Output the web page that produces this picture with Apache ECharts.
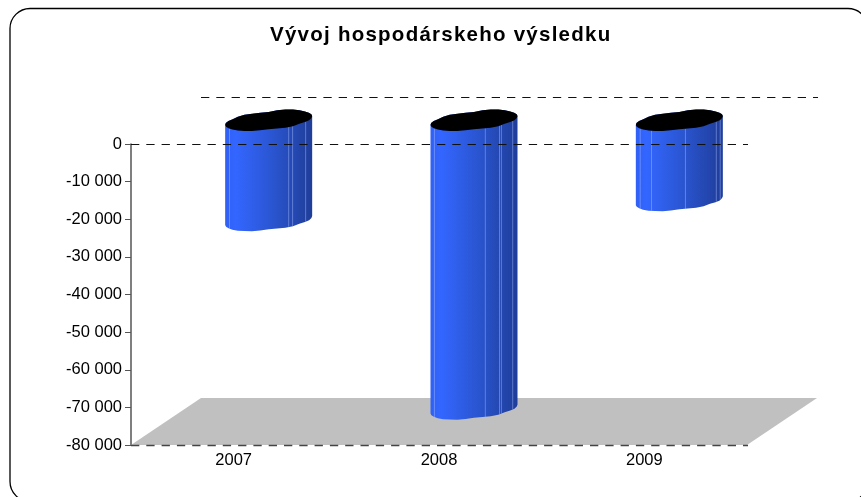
<!DOCTYPE html>
<html><head><meta charset="utf-8">
<style>html,body{margin:0;padding:0;background:#fff}#c{width:861px;height:497px}</style>
<script src="https://cdn.jsdelivr.net/npm/echarts@6/dist/echarts.min.js"></script>
</head><body><div id="c"></div>
<script>
const titleText = 'Vývoj hospodárskeho výsledku';
const categories = ['2007', '2008', '2009'];
const values = [-26600, -76700, -21300];
const yTicks = [0, -80000];

const DEPTH = [70, -47];
const R = [43.5, 9.3];
const SKEW = 4.5;
const seams = [
  [-0.9, 0.46, 0.55, 0.85],
  [-0.91, 0.26, 0.586, 0.63, 0.89],
  [-0.9, -0.64, 0.14, 0.85, 0.94]
];
const bump = [0, .3, .9, .2, -.3, .5, .3, -.3, -.6, -.2, .3, .3, .5, .3, -.2, -.2,
              0, .8, .3, -.5, .4, .6, -.2, -.6, -.8, .3, .8, .9, .6, .3, -.2, 0];

// ECharts text has no letter spacing option; the title is tracked out at draw time.
const nativeFillText = CanvasRenderingContext2D.prototype.fillText;
CanvasRenderingContext2D.prototype.fillText = function (t, x, y, w) {
  const prev = this.letterSpacing;
  if (t === titleText) this.letterSpacing = '1.25px';
  const r = w === undefined ? nativeFillText.call(this, t, x, y) : nativeFillText.call(this, t, x, y, w);
  this.letterSpacing = prev;
  return r;
};

function fmt(v) { return String(v).replace(/(\d)(?=(\d{3})+$)/g, '$1 '); }

function rimPoints(cx, cy) {
  const pts = [], n = bump.length;
  for (let i = 0; i < n; i++) {
    const t = i / n * Math.PI * 2;
    const b = bump[i];
    pts.push([cx + (R[0] + b * 0.3) * Math.cos(t), cy - SKEW * Math.cos(t) + (R[1] + b) * Math.sin(t)]);
  }
  return pts;
}

function renderFloor(params, api) {
  const bw = api.size([1, 0])[0];
  const x0 = api.coord([0, 0])[0] - bw / 2;
  const x1 = x0 + bw * categories.length;
  const yb = api.coord([0, yTicks[1]])[1];
  return { type: 'polygon', z2: 1, silent: true,
    shape: { points: [[x0, yb], [x0 + DEPTH[0], yb + DEPTH[1]], [x1 + DEPTH[0], yb + DEPTH[1]], [x1, yb]] },
    style: { fill: '#c0c0c0' } };
}

function renderBar(params, api) {
  const i = params.dataIndex;
  const top = api.coord([i, 0]);
  const bot = api.coord([i, api.value(1)]);
  const cx = top[0] + DEPTH[0] / 2, ty = top[1] + DEPTH[1] / 2, by = bot[1] + DEPTH[1] / 2;
  const rimT = rimPoints(cx, ty), rimB = rimPoints(cx, by);
  const n = rimT.length;
  const front = [];
  for (let k = 0; k <= n / 2; k++) front.push(rimB[k]);
  const upper = [];
  for (let k = n / 2; k <= n; k++) upper.push(rimT[k % n]);
  const body = front.concat(upper);
  const children = [{
    type: 'polygon', shape: { points: body },
    style: { fill: new echarts.graphic.LinearGradient(0, 0, 1, 0, [
      { offset: 0, color: '#3060f5' }, { offset: 0.12, color: '#3366ff' },
      { offset: 0.55, color: '#2a55d0' }, { offset: 1, color: '#1f3d99' }]) }
  }];
  seams[i].forEach(u => {
    const x = cx + u * R[0];
    const s = Math.sqrt(Math.max(0, 1 - u * u));
    children.push({ type: 'line',
      shape: { x1: x, y1: ty - SKEW * u + R[1] * s, x2: x, y2: by - SKEW * u + R[1] * s },
      style: { stroke: 'rgba(170,190,255,0.45)', lineWidth: 1 } });
  });
  children.push({ type: 'polygon', shape: { points: rimT }, style: { fill: '#000' } });
  return { type: 'group', z2: 5, children };
}

function renderLines(params, api) {
  const bw = api.size([1, 0])[0];
  const x0 = api.coord([0, 0])[0] - bw / 2;
  const x1 = x0 + bw * categories.length;
  const y0 = api.coord([0, yTicks[0]])[1];
  const yb = api.coord([0, yTicks[1]])[1];
  const dash = { lineWidth: 1, lineDash: [8.3, 7] };
  return { type: 'group', z2: 9, children: [
    { type: 'line', shape: { x1: x0, y1: y0 + .5, x2: x1 + 1, y2: y0 + .5 }, style: { stroke: '#111', ...dash } },
    { type: 'line', shape: { x1: x0 + DEPTH[0], y1: y0 + DEPTH[1] + .5, x2: x1 + DEPTH[0] + 1, y2: y0 + DEPTH[1] + .5 }, style: { stroke: '#111', ...dash } },
    { type: 'line', shape: { x1: x0, y1: yb + .5, x2: x1 + 1, y2: yb + .5 }, style: { stroke: '#444', lineWidth: 1.3, lineDash: [8.3, 7] } }
  ] };
}

const chart = echarts.init(document.getElementById('c'), null, { renderer: 'canvas' });
chart.setOption({
  animation: false,
  backgroundColor: '#fff',
  textStyle: { fontFamily: 'Liberation Sans' },
  title: { text: titleText, left: 270, top: 25, padding: 0,
    textStyle: { fontFamily: 'Liberation Sans', fontSize: 20.5, fontWeight: 'bold', color: '#000' } },
  grid: { left: 131, right: 114, top: 144, bottom: 52, containLabel: false },
  xAxis: { type: 'category', data: categories,
    axisLine: { show: false }, axisTick: { show: false },
    axisLabel: { color: '#000', fontSize: 16.5, margin: 7 } },
  yAxis: { type: 'value', min: -80000, max: 0, interval: 10000,
    axisLine: { show: true, onZero: false, lineStyle: { color: '#555', width: 1.5 } },
    axisTick: { show: true, length: 6, lineStyle: { color: '#555' } },
    splitLine: { show: false },
    axisLabel: { color: '#000', fontSize: 16.5, margin: 9, formatter: fmt } },
  graphic: [{ type: 'rect', z: -1, silent: true,
    shape: { x: 10, y: 8.5, width: 858, height: 493, r: 20 },
    style: { fill: 'none', stroke: '#000', lineWidth: 1.3 } }],
  series: [
    { type: 'custom', coordinateSystem: 'cartesian2d', clip: false, z: 1, renderItem: renderFloor, data: [[0, 0]], silent: true },
    { type: 'custom', coordinateSystem: 'cartesian2d', clip: false, z: 2, renderItem: renderBar,
      encode: { x: 0, y: 1 }, data: values.map((v, i) => [i, v]), silent: true },
    { type: 'custom', coordinateSystem: 'cartesian2d', clip: false, z: 3, renderItem: renderLines, data: [[0, 0]], silent: true }
  ]
});
</script></body></html>
